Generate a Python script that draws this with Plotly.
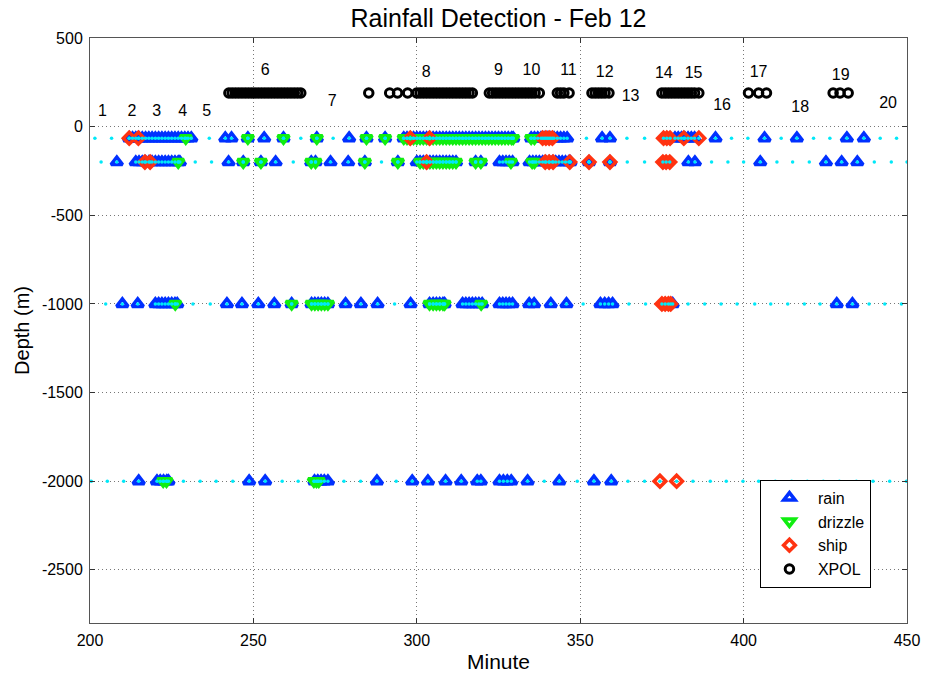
import plotly.graph_objects as go

# Sensor depths (m)
DEPTH_A, DEPTH_B, DEPTH_C, DEPTH_D = -65, -200, -1000, -2000
XPOL_LEVEL = 190

# ---- detections at each depth (minute of the day) ----
rain_a = [212, 213, 214, 215, 216, 217, 218, 219, 220, 221, 222, 223, 224, 225, 226, 227, 228, 229, 230, 231,
          241.4, 243.3, 248.3, 253.3, 259.2, 269.4, 279.3, 284.6, 290.3,
          296, 297, 298, 299, 300, 301, 302, 303, 304, 305, 306, 307, 308, 309, 310, 311, 312,
          313, 314, 315, 316, 317, 318, 319, 320, 321, 322, 323, 324, 325, 326, 327, 328, 329, 329.5,
          335, 336, 337, 338, 339, 340, 341, 342, 343, 344, 345, 346,
          356.7, 359.1, 379, 380, 381, 382, 383, 384, 385,
          391.4, 406.4, 416.3, 431.6, 436.8]
drizzle_a = [229.3, 248.3, 259.2, 269.4, 284.6, 290.3,
             296, 297, 298, 299, 300, 301, 302, 303, 304, 305, 306, 307, 308, 309, 310, 311, 312,
             313, 314, 315, 316, 317, 318, 319, 320, 321, 322, 323, 324, 325, 326, 327, 328, 329, 329.5,
             335, 336]
ship_a = [212, 214.8, 298, 303.9, 338.5, 339.5, 340.5, 341.5,
          375.5, 376.5, 377.5, 381.7, 386.3]
quiet_a = [201.5, 206.6, 236.5, 264.5, 274.4, 351.9, 364.3, 369.7, 396.3, 401.3,
           411.5, 421.4, 426.4, 441.8, 446.8]

rain_b = [208.2, 214, 215, 216, 217, 218, 219, 220, 221, 222, 223, 224, 225, 226, 227, 227.5,
          242.4, 246.9, 252.3, 256.8, 267.7, 269, 273.6, 279, 284.1, 294.2,
          300, 301, 302, 303, 304, 305, 306, 307, 308, 309, 310, 311, 312,
          318, 319.6, 325.3, 326.3, 327.3, 328.3, 329.3,
          334.5, 335.5, 336.5, 337.5, 338.5, 339.5, 340.5, 341.5, 342.5, 343.5, 344.5, 345.5, 346.5, 347,
          352.7, 359.1, 383.1, 385.1, 405.1, 425.2, 430, 434.8]
drizzle_b = [227, 246.9, 252.3, 267.7, 269, 284.1, 294.2,
             301, 302, 303, 304, 305, 306, 307, 308, 309, 310, 311, 312,
             318, 319.6, 328.8, 335.3, 336]
ship_b = [216.8, 218.4, 303, 339.3, 340.5, 341.7, 346.8, 352.7, 359.1,
          375.3, 376.3, 377.4]
quiet_b = [203.4, 232.2, 237.2, 262.2, 289.2, 364.4, 369.7, 390.2, 395.2, 400,
           410.2, 415, 420.1, 440, 445.2, 450]

rain_c = [209.9, 214.6, 220, 221, 222, 223, 224, 225, 226, 226.7,
          241.9, 246.5, 251.5, 256.4, 261.7, 267.8, 268.8, 269.8, 270.8, 271.8, 272.8,
          278.2, 282.9, 288, 298.1, 303.9, 305, 306, 307, 308, 308.5,
          314, 315, 316, 317, 318, 319, 320, 325.3, 326.3, 327.3, 328.3, 329.3,
          334.4, 335.9, 341, 345.8, 356.2, 357.5, 358.7, 359.9, 378.3, 428.5, 433.3]
drizzle_c = [226.1, 261.7, 267.8, 268.8, 269.8, 270.8, 271.8, 272.8,
             303.9, 305, 306, 307, 308, 308.5, 319.7]
ship_c = [375, 376, 377, 377.7]
quiet_c = [204.8, 231.5, 236.8, 293.2, 350.9, 364.9, 370, 383, 388.1, 393.1, 398,
           403.4, 408.3, 413.5, 418.6, 423.4, 438.4, 443.2, 448.3]

rain_d = [214.9, 220.5, 221.5, 222.5, 223.5, 224, 248.7, 253.6,
          268.7, 269.7, 270.7, 271.7, 272.8, 287.8, 298.6, 303.4, 308.8, 313.6, 318.5, 319.6,
          325.3, 326.5, 327.7, 328.9, 333.9, 343.6, 354.2, 359.5]
drizzle_d = [222.4, 223.4, 268.5, 269.3, 270]
ship_d = [374.4, 379.5]
quiet_d = [200.4, 205.3, 210.3, 228.6, 233.7, 238.6, 243.7, 258.8, 263.7, 277.7, 282.8, 293.7,
           339, 349.1, 364.6, 369.7, 384.5, 389.8, 394.7, 399.8, 404.6, 409.7, 414.7, 419.5,
           424.4, 429.3, 434.5, 439.6, 444.7, 449.8]

# XPOL radar passes
xpol_t = [242.5, 243.5, 244.5, 245.5, 246.5, 247.5, 248.5, 249.5, 250.5, 251.5, 252.5, 253.5,
          254.5, 255.5, 256.5, 257.5, 258.5, 259.5, 260.5, 261.5, 262.5, 263.5, 264.5,
          285.3, 291.7, 294.1, 297.2,
          300, 301, 302, 303, 304, 305, 306, 307, 308, 309, 310, 311, 312, 313, 314, 315, 316, 317,
          322.2, 323.2, 324.2, 325.2, 326.2, 327.2, 328.2, 329.2, 330.2, 331.2, 332.2, 333.2,
          334.2, 335.2, 336.2, 337.5,
          343, 344, 345, 346.6, 353.6, 354.6, 355.6, 356.6, 357.6, 358.8,
          375, 376, 377, 378, 379, 380, 381, 382, 383, 384, 385, 386.3,
          401.5, 404.6, 407, 427.4, 429.5, 432]

# Event numbers
event_labels = [str(i) for i in range(1, 21)]
event_x = [203.8, 212.8, 220.4, 228.4, 235.7, 253.6, 274.1, 302.9, 325.0, 335.1,
           346.4, 357.5, 365.4, 375.6, 384.7, 393.4, 404.6, 417.3, 429.7, 444.2]
event_y = [85, 85, 85, 85, 85, 316, 138, 305, 316, 316,
           316, 305, 169, 295, 295, 117, 305, 104, 288, 126]

# Axis ticks
x_ticks = [200, 250, 300, 350, 400, 450]
y_ticks = [-2500, -2000, -1500, -1000, -500, 0, 500]
y_tick_text = ["-2500", "-2000", "-1500", "-1000", "-500", "0", "500"]

DEPTHS = [DEPTH_A, DEPTH_B, DEPTH_C, DEPTH_D]
RAIN = [rain_a, rain_b, rain_c, rain_d]
DRIZZLE = [drizzle_a, drizzle_b, drizzle_c, drizzle_d]
SHIP = [ship_a, ship_b, ship_c, ship_d]
QUIET = [quiet_a, quiet_b, quiet_c, quiet_d]


def stack(groups):
    xs, ys = [], []
    for depth, times in zip(DEPTHS, groups):
        xs += list(times)
        ys += [depth] * len(times)
    return xs, ys


FONT = "Liberation Sans, Arial, Helvetica, sans-serif"
BLUE, GREEN, RED, CYAN = "#0030ff", "#10ee10", "#ff3311", "#00e8f8"

fig = go.Figure()

rx, ry = stack(RAIN)
fig.add_trace(go.Scatter(x=rx, y=ry, mode="markers", name="rain",
                         marker=dict(symbol="triangle-up-open", size=10, color=BLUE,
                                     line=dict(width=3.5, color=BLUE))))
dx, dy = stack(DRIZZLE)
fig.add_trace(go.Scatter(x=dx, y=dy, mode="markers", name="drizzle",
                         marker=dict(symbol="triangle-down-open", size=10, color=GREEN,
                                     line=dict(width=3.5, color=GREEN))))
sx, sy = stack(SHIP)
fig.add_trace(go.Scatter(x=sx, y=sy, mode="markers", name="ship",
                         marker=dict(symbol="diamond-open", size=9, color=RED,
                                     line=dict(width=3.5, color=RED))))
fig.add_trace(go.Scatter(x=xpol_t, y=[XPOL_LEVEL] * len(xpol_t), mode="markers", name="XPOL",
                         marker=dict(symbol="circle-open", size=8.5, color="black",
                                     line=dict(width=3, color="black"))))

# every sample time, drawn as small cyan dots on top
all_x, all_y = [], []
for g in (RAIN, DRIZZLE, SHIP, QUIET):
    gx, gy = stack(g)
    all_x += gx
    all_y += gy
fig.add_trace(go.Scatter(x=all_x, y=all_y, mode="markers", showlegend=False, hoverinfo="skip",
                         marker=dict(symbol="circle", size=3.5, color=CYAN, line=dict(width=0))))

fig.add_trace(go.Scatter(x=event_x, y=event_y, mode="text", text=event_labels, showlegend=False,
                         textfont=dict(family=FONT, size=16, color="black")))

axis_common = dict(showline=True, linecolor="#555555", linewidth=1, mirror="ticks",
                   ticks="inside", ticklen=5, tickcolor="#333333",
                   showgrid=True, gridcolor="#777777", griddash="1px,3px", gridwidth=1,
                   zeroline=False, ticklabelstandoff=3, automargin=False,
                   tickfont=dict(family=FONT, size=16, color="black"))

fig.update_layout(
    width=927, height=674,
    margin=dict(l=90, r=20, t=38, b=51),
    paper_bgcolor="white", plot_bgcolor="white",
    font=dict(family=FONT, color="black"),
    title=dict(text="Rainfall Detection - Feb 12", x=0.5, xanchor="center", xref="paper",
               y=1 - 18 / 674, yanchor="middle", yref="container",
               font=dict(family=FONT, size=25, color="black")),
    xaxis=dict(range=[200, 450], tickvals=x_ticks,
               title=dict(text="Minute", font=dict(family=FONT, size=21), standoff=6),
               **axis_common),
    yaxis=dict(range=[-2800, 500], tickvals=y_ticks, ticktext=y_tick_text,
               title=dict(text="Depth (m)", font=dict(family=FONT, size=20), standoff=6),
               **axis_common),
    legend=dict(x=0.82, y=0.245, xanchor="left", yanchor="top",
                bgcolor="white", bordercolor="black", borderwidth=1,
                font=dict(family=FONT, size=16, color="black"),
                itemwidth=47, tracegroupgap=0),
    showlegend=True,
)

fig.write_html("out.html")
